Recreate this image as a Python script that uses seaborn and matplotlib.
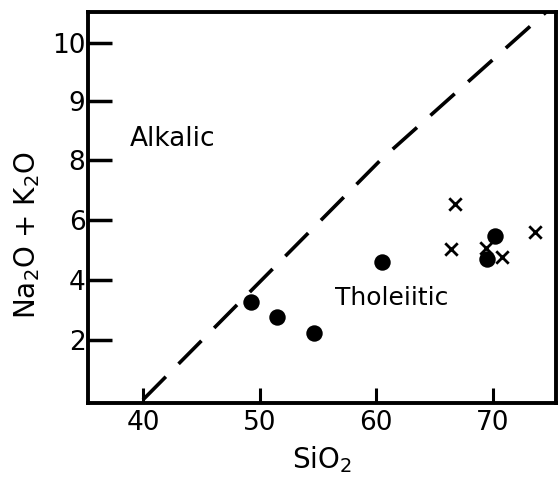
import numpy as np
import pandas as pd
import matplotlib
matplotlib.use("Agg")
import matplotlib.pyplot as plt
import seaborn as sns

sns.set_theme(style="white")
plt.rcParams['font.family'] = ['DejaVu Sans']
plt.rcParams['text.color'] = 'black'
plt.rcParams['axes.labelcolor'] = 'black'

# Data
circle_sio2 = [49.3, 51.5, 54.7, 60.5, 70.2, 69.5]
circle_alk = [3.27, 2.77, 2.23, 4.6, 5.47, 4.7]
cross_sio2 = [66.8, 66.4, 69.4, 70.8, 73.6]
cross_alk = [6.53, 5.03, 5.07, 4.77, 5.6]
divider_sio2 = [40.0, 60.4, 74.6]
divider_alk = [0.0, 8.0, 10.53]
x_ticks = [40, 50, 60, 70]
y_ticks = [2, 4, 6, 8, 9, 10]

def fwd(y):
    y = np.asarray(y, dtype=float)
    return np.where(y <= 8, y, 8 + (y - 8) * 1.95)

def inv(v):
    v = np.asarray(v, dtype=float)
    return np.where(v <= 8, v, 8 + (v - 8) / 1.95)

fig = plt.figure(figsize=(5.58, 4.90), dpi=100)
ax = fig.add_axes([0.158, 0.178, 0.838, 0.798])
ax.set_yscale('function', functions=(fwd, inv))

df_c = pd.DataFrame({'x': circle_sio2, 'y': circle_alk})
df_x = pd.DataFrame({'x': cross_sio2, 'y': cross_alk})
df_d = pd.DataFrame({'x': divider_sio2, 'y': divider_alk})

sns.lineplot(data=df_d, x='x', y='y', sort=False, estimator=None, ax=ax,
             color='black', linewidth=2.6, legend=False)
ax.lines[-1].set_dashes((9, 5))
sns.scatterplot(data=df_c, x='x', y='y', ax=ax, marker='o', s=140,
                color='black', edgecolor='black', linewidth=0, zorder=3)
sns.scatterplot(data=df_x, x='x', y='y', ax=ax, marker='x', s=80,
                color='black', linewidth=2.0, zorder=3)

ax.set_xlim(35.3, 75.4)
ax.set_ylim(-0.1, 10.53)
ax.set_xticks(x_ticks)
ax.set_yticks(y_ticks)
ax.set_xticklabels([str(t) for t in x_ticks], fontsize=19)
ax.set_yticklabels([str(t) for t in y_ticks], fontsize=19)
ax.tick_params(axis='y', direction='in', length=17, width=2.5, pad=2,
               left=True, colors='black')
ax.tick_params(axis='x', direction='in', length=11, width=2.2, pad=5,
               bottom=True, colors='black')
for sp in ax.spines.values():
    sp.set_visible(True)
    sp.set_color('black')
    sp.set_linewidth(2.8)

ax.set_xlabel('SiO$_2$', fontsize=20, labelpad=6)
ax.set_ylabel('Na$_2$O + K$_2$O', fontsize=20)
ax.yaxis.set_label_coords(-0.098, 0.43)

ax.text(38.9, 8.35, 'Alkalic', fontsize=19, ha='left', va='center')
ax.text(56.5, 3.4, 'Tholeiitic', fontsize=18, ha='left', va='center')

fig.savefig('out.png', dpi=100, facecolor='white')
